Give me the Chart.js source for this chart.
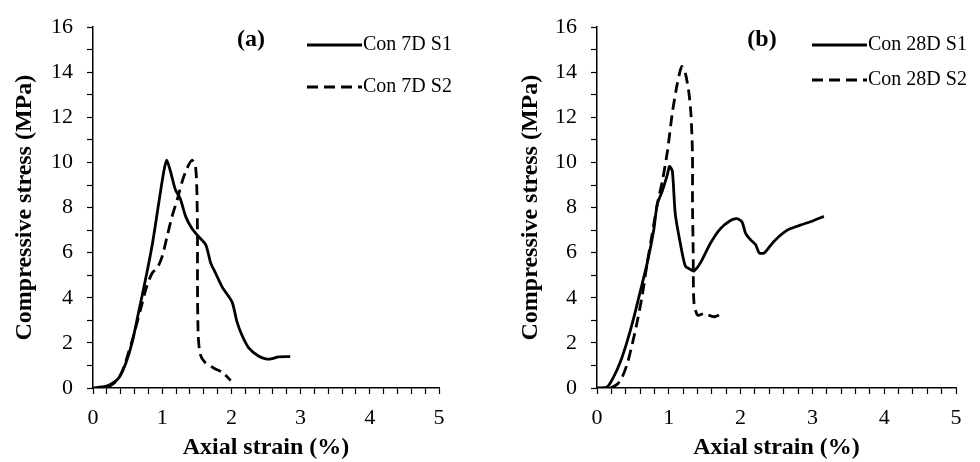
<!DOCTYPE html>
<html lang="en">
<head>
    <meta charset="UTF-8">
    <title>Compressive stress vs axial strain</title>
    <script src="https://cdn.jsdelivr.net/npm/chart.js"></script>
    <style>
        body { margin: 0; background: #fff; }
        .panel { position: absolute; top: 0; width: 490px; height: 462px; }
    </style>
</head>
<body>
    <div class="panel" style="left:0"><canvas id="chartA" width="490" height="462"></canvas></div>
    <div class="panel" style="left:490px"><canvas id="chartB" width="490" height="462"></canvas></div>

    <script>
        // (a) 7 day specimens
        const con7dS1Strain = [0, 0.18, 0.3, 0.38, 0.47, 0.57, 0.66, 0.76, 0.86, 0.95, 1.02, 1.065, 1.12, 1.19, 1.26, 1.34, 1.43, 1.53, 1.63, 1.7, 1.77, 1.87, 2.01, 2.08, 2.15, 2.25, 2.39, 2.51, 2.59, 2.68, 2.85];
        const con7dS1Stress = [0, 0.07, 0.25, 0.48, 1.06, 2.07, 3.38, 4.83, 6.42, 8.2, 9.55, 10.1, 9.6, 8.8, 8.4, 7.6, 7.07, 6.7, 6.35, 5.55, 5.1, 4.46, 3.81, 2.94, 2.36, 1.78, 1.42, 1.28, 1.3, 1.38, 1.39];

        const con7dS2Strain = [0.2, 0.3, 0.38, 0.45, 0.52, 0.59, 0.69, 0.78, 0.86, 0.93, 1.0, 1.07, 1.14, 1.22, 1.29, 1.36, 1.43, 1.48, 1.5, 1.51, 1.51, 1.52, 1.55, 1.62, 1.77, 1.87, 1.99];
        const con7dS2Stress = [0, 0.2, 0.48, 0.95, 1.64, 2.36, 3.52, 4.54, 5.12, 5.33, 5.84, 6.71, 7.58, 8.38, 9.17, 9.75, 10.1, 9.83, 8.88, 6.71, 4.54, 2.36, 1.49, 1.13, 0.84, 0.7, 0.33];

        // (b) 28 day specimens
        const con28dS1Strain = [0, 0.14, 0.23, 0.33, 0.42, 0.51, 0.6, 0.7, 0.79, 0.84, 0.91, 0.98, 1.01, 1.05, 1.09, 1.16, 1.23, 1.3, 1.35, 1.44, 1.58, 1.72, 1.86, 1.95, 2.02, 2.07, 2.14, 2.21, 2.26, 2.33, 2.46, 2.65, 2.83, 3.02, 3.16];
        const con28dS1Stress = [0, 0.04, 0.48, 1.2, 2.07, 3.09, 4.25, 5.55, 7.0, 8.16, 8.74, 9.46, 9.83, 9.6, 7.72, 6.42, 5.41, 5.26, 5.19, 5.55, 6.42, 7.07, 7.43, 7.51, 7.36, 6.86, 6.57, 6.35, 5.99, 5.99, 6.49, 7.0, 7.22, 7.43, 7.61];

        const con28dS2Strain = [0.19, 0.28, 0.35, 0.42, 0.49, 0.56, 0.63, 0.7, 0.77, 0.84, 0.91, 0.98, 1.05, 1.12, 1.18, 1.23, 1.28, 1.31, 1.33, 1.33, 1.34, 1.35, 1.4, 1.49, 1.63, 1.74];
        const con28dS2Stress = [0, 0.16, 0.48, 1.06, 1.93, 2.94, 4.1, 5.55, 6.86, 8.16, 9.17, 10.48, 12.22, 13.52, 14.25, 13.96, 13.09, 12.07, 10.33, 8.16, 5.99, 3.81, 3.23, 3.3, 3.16, 3.3];

        const serif = "'Liberation Serif', 'Times New Roman', serif";

        function toPoints(xs, ys) {
            return xs.map((x, i) => ({ x: x, y: ys[i] }));
        }

        // panel tag and legend drawn inside the plot
        const panelNotes = {
            id: 'panelNotes',
            afterDraw(chart, args, opts) {
                const ctx = chart.ctx;
                ctx.save();
                ctx.fillStyle = '#000';
                ctx.font = 'bold 24px ' + serif;
                ctx.textAlign = 'center';
                ctx.textBaseline = 'middle';
                ctx.fillText(opts.tag, opts.tagX, opts.tagY);
                ctx.font = '20px ' + serif;
                ctx.textAlign = 'left';
                chart.data.datasets.forEach((ds, i) => {
                    const y = opts.legendY[i];
                    ctx.strokeStyle = ds.borderColor;
                    ctx.lineWidth = ds.borderWidth;
                    ctx.setLineDash(ds.borderDash || []);
                    ctx.beginPath();
                    ctx.moveTo(opts.legendX, y);
                    ctx.lineTo(opts.legendX + 55, y);
                    ctx.stroke();
                    ctx.fillText(ds.label, opts.legendX + 56, y);
                });
                ctx.restore();
            }
        };

        function makeChart(id, series, geo) {
            const ctx = document.getElementById(id).getContext('2d');
            return new Chart(ctx, {
                type: 'line',
                data: {
                    datasets: series.map(s => ({
                        label: s.label,
                        data: toPoints(s.x, s.y),
                        borderColor: '#000',
                        borderWidth: 2.8,
                        borderDash: s.dashed ? [11, 6] : [],
                        pointRadius: 0,
                        tension: 0.25,
                        fill: false
                    }))
                },
                options: {
                    responsive: false,
                    animation: false,
                    layout: { padding: { left: 0, right: geo.right, top: 20, bottom: 0 } },
                    plugins: {
                        legend: { display: false },
                        tooltip: { enabled: false },
                        panelNotes: geo.notes
                    },
                    scales: {
                        x: {
                            type: 'linear',
                            min: 0, max: 5,
                            afterFit: s => { s.height = 74; },
                            border: { display: true, color: '#000', width: 1.5 },
                            grid: { drawOnChartArea: false, drawTicks: true, tickLength: 6, color: '#000', tickWidth: 1.2 },
                            ticks: {
                                stepSize: 0.2, autoSkip: false, maxRotation: 0, padding: 11,
                                color: '#000', font: { family: serif, size: 22 },
                                callback: v => Math.abs(v - Math.round(v)) < 1e-6 ? String(Math.round(v)) : ''
                            },
                            title: {
                                display: true, text: 'Axial strain (%)', color: '#000',
                                font: { family: serif, size: 24, weight: 'bold' },
                                padding: { top: 0, bottom: 0 }
                            }
                        },
                        y: {
                            min: 0, max: 16,
                            afterFit: s => { s.width = geo.axisWidth; },
                            border: { display: true, color: '#000', width: 1.5 },
                            grid: { drawOnChartArea: false, drawTicks: true, tickLength: 6, color: '#000', tickWidth: 1.2 },
                            ticks: {
                                stepSize: 1, autoSkip: false, padding: 14,
                                color: '#000', font: { family: serif, size: 22 },
                                callback: v => v % 2 === 0 ? String(v) : ''
                            },
                            title: {
                                display: true, text: 'Compressive stress (MPa)', color: '#000',
                                font: { family: serif, size: 24, weight: 'bold' },
                                padding: { top: geo.titlePad, bottom: 0 }
                            }
                        }
                    }
                },
                plugins: [panelNotes]
            });
        }

        makeChart('chartA', [
            { label: 'Con 7D S1', x: con7dS1Strain, y: con7dS1Stress, dashed: false },
            { label: 'Con 7D S2', x: con7dS2Strain, y: con7dS2Stress, dashed: true }
        ], {
            right: 51, axisWidth: 93, titlePad: 10,
            notes: { tag: '(a)', tagX: 251, tagY: 40, legendX: 307, legendY: [45, 87] }
        });

        makeChart('chartB', [
            { label: 'Con 28D S1', x: con28dS1Strain, y: con28dS1Stress, dashed: false },
            { label: 'Con 28D S2', x: con28dS2Strain, y: con28dS2Stress, dashed: true }
        ], {
            right: 24, axisWidth: 107, titlePad: 26,
            notes: { tag: '(b)', tagX: 272, tagY: 40, legendX: 322, legendY: [45, 80] }
        });
    </script>
</body>
</html>
